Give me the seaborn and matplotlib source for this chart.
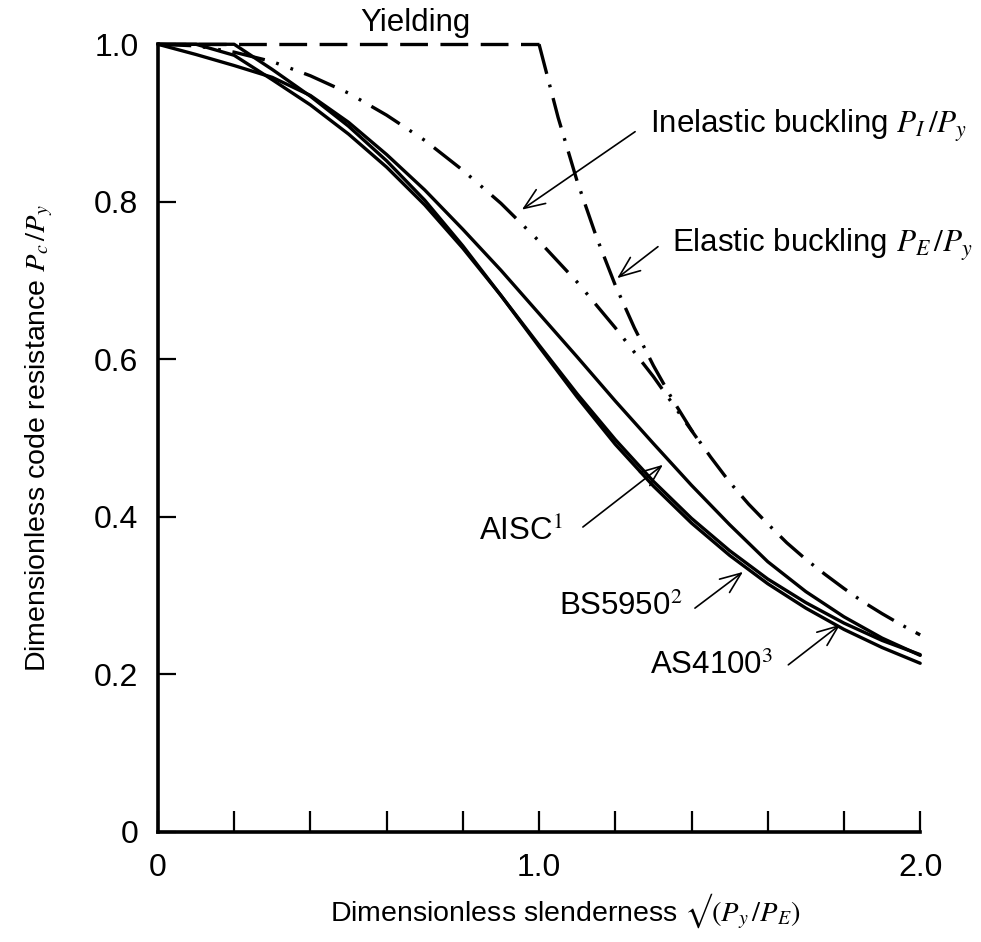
import numpy as np
import pandas as pd
import matplotlib
matplotlib.use("Agg")
import matplotlib.pyplot as plt
import seaborn as sns

# column curves
lam = [0.0, 0.1, 0.2, 0.3, 0.4, 0.5, 0.6, 0.7, 0.8, 0.9, 1.0,
       1.1, 1.2, 1.3, 1.4, 1.5, 1.6, 1.7, 1.8, 1.9, 2.0]
aisc = [1.000, 0.987, 0.973, 0.958, 0.935, 0.901, 0.860, 0.815, 0.765, 0.713, 0.658,
        0.603, 0.547, 0.493, 0.440, 0.390, 0.343, 0.305, 0.273, 0.246, 0.224]
bs5950 = [1.000, 1.000, 1.000, 0.968, 0.934, 0.896, 0.852, 0.802, 0.744, 0.681, 0.616,
          0.552, 0.492, 0.439, 0.392, 0.351, 0.315, 0.284, 0.257, 0.234, 0.214]
as4100 = [1.000, 1.000, 0.986, 0.955, 0.923, 0.886, 0.844, 0.796, 0.741, 0.681, 0.618,
          0.556, 0.498, 0.445, 0.398, 0.357, 0.321, 0.291, 0.265, 0.243, 0.225]

lam_yield = [0.0, 1.0]
yielding = [1.0, 1.0]

lam_inel = [0.0, 0.1, 0.2, 0.3, 0.4, 0.5, 0.6, 0.7, 0.8, 0.9, 1.0, 1.1, 1.2, 1.3, 1.414]
inelastic = [1.000, 0.998, 0.990, 0.978, 0.960, 0.938, 0.910, 0.878, 0.840, 0.798,
             0.750, 0.698, 0.640, 0.578, 0.500]

lam_el = [1.00, 1.05, 1.10, 1.15, 1.20, 1.25, 1.30, 1.35, 1.40, 1.45, 1.50,
          1.55, 1.60, 1.65, 1.70, 1.75, 1.80, 1.85, 1.90, 1.95, 2.00]
elastic = [1.000, 0.907, 0.826, 0.756, 0.694, 0.640, 0.592, 0.549, 0.510, 0.476, 0.444,
           0.416, 0.391, 0.367, 0.346, 0.327, 0.309, 0.292, 0.277, 0.263, 0.250]

x_ticklabels = ["0", "1.0", "2.0"]
y_ticklabels = ["0", "0.2", "0.4", "0.6", "0.8", "1.0"]

sns.set_theme(style="white")
plt.rcParams["font.family"] = ["Liberation Sans", "DejaVu Sans"]
plt.rcParams["mathtext.fontset"] = "stix"
plt.rcParams["lines.scale_dashes"] = False
for key in ["text.color", "axes.labelcolor", "xtick.color", "ytick.color"]:
    plt.rcParams[key] = "black"

fig = plt.figure(figsize=(9.81, 9.42), dpi=100)
ax = fig.add_axes([0.161, 0.117, 0.777, 0.836])

lw = 2.4
codes = pd.DataFrame({"lam": lam, "AISC": aisc, "BS5950": bs5950, "AS4100": as4100})
for col in ["AISC", "BS5950", "AS4100"]:
    sns.lineplot(data=codes, x="lam", y=col, ax=ax, color="black", lw=lw,
                 estimator=None, sort=False, clip_on=False)

sns.lineplot(x=lam_yield, y=yielding, ax=ax, color="black", lw=lw,
             linestyle=(0, (20, 9)), clip_on=False)
sns.lineplot(x=lam_inel, y=inelastic, ax=ax, color="black", lw=lw,
             linestyle=(0, (24, 8.5, 2, 9, 2, 8.5)), clip_on=False, sort=False)
sns.lineplot(x=lam_el, y=elastic, ax=ax, color="black", lw=lw,
             linestyle=(0, (22, 8, 2, 8)), clip_on=False, sort=False)

ax.set_xlim(0, 2.0)
ax.set_ylim(0, 1.0)
ax.set_xticks([0, 1.0, 2.0])
ax.set_xticklabels(x_ticklabels)
ax.set_xticks(np.arange(0.2, 2.0, 0.2), minor=True)
ax.set_yticks([0, 0.2, 0.4, 0.6, 0.8, 1.0])
ax.set_yticklabels(y_ticklabels)
ax.tick_params(axis="x", which="both", direction="in", length=15, width=1.6,
               color="black", labelcolor="black", labelsize=23, pad=15, bottom=True)
ax.tick_params(axis="y", which="both", direction="in", length=13, width=1.6,
               color="black", labelcolor="black", labelsize=23, pad=14, left=True)
for s in ["top", "right"]:
    ax.spines[s].set_visible(False)
for s in ["left", "bottom"]:
    ax.spines[s].set_linewidth(2.6)
    ax.spines[s].set_color("black")

ax.set_xlabel("Dimensionless slenderness $\u221a(P_y\\,/P_E)$", fontsize=20.5, color="black")
ax.set_ylabel(r"Dimensionless code resistance $P_c\,/P_y$", fontsize=20.5, color="black")
ax.xaxis.set_label_coords(0.534, -0.076)
ax.yaxis.set_label_coords(-0.135, 0.5)

arrow = dict(arrowstyle="->,head_length=0.75,head_width=0.3", lw=1.2, color="black",
             shrinkA=0, shrinkB=0, mutation_scale=20)

fs = 22.5
ax.text(0.675, 1.027, "Yielding", fontsize=fs, ha="center", va="center", clip_on=False)

ax.text(1.29, 0.895, r"Inelastic buckling $P_I\,/P_y$", fontsize=fs, ha="left", va="center")
ax.annotate("", xy=(0.955, 0.79), xytext=(1.252, 0.889), arrowprops=arrow)

ax.text(1.35, 0.745, r"Elastic buckling $P_E\,/P_y$", fontsize=fs, ha="left", va="center")
ax.annotate("", xy=(1.205, 0.703), xytext=(1.312, 0.743), arrowprops=arrow)

ax.text(1.063, 0.38, r"AISC$^1$", fontsize=fs, ha="right", va="center")
ax.annotate("", xy=(1.325, 0.466), xytext=(1.115, 0.387), arrowprops=arrow)

ax.text(1.375, 0.286, r"BS5950$^2$", fontsize=fs, ha="right", va="center")
ax.annotate("", xy=(1.535, 0.330), xytext=(1.409, 0.284), arrowprops=arrow)

ax.text(1.614, 0.21, r"AS4100$^3$", fontsize=fs, ha="right", va="center")
ax.annotate("", xy=(1.79, 0.263), xytext=(1.654, 0.212), arrowprops=arrow)

fig.savefig("out.png", dpi=100)
